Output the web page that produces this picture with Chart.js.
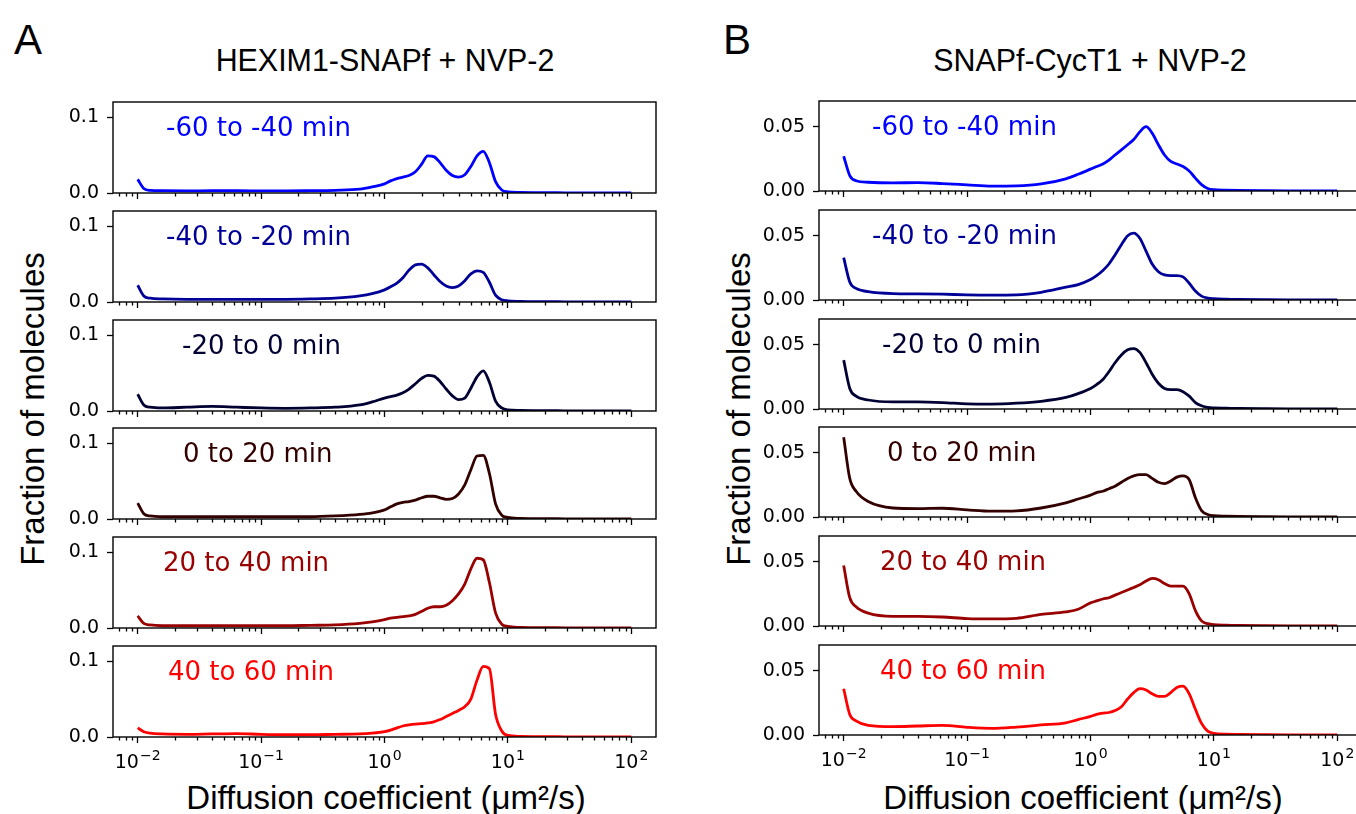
<!DOCTYPE html>
<html><head><meta charset="utf-8">
<script src="https://cdn.jsdelivr.net/npm/chart.js@4"></script>
<style>
html,body{margin:0;padding:0;background:#fff;width:1356px;height:814px;overflow:hidden;position:relative;}
.t{position:absolute;font-family:"Liberation Sans",Arial,sans-serif;color:#000;white-space:nowrap;line-height:1;transform:translate(-50%,-50%);}
.rot{transform:translate(-50%,-50%) rotate(-90deg);}
canvas{position:absolute;}
</style></head><body>
<div class="t" style="left:28px;top:40px;font-size:42px;">A</div>
<div class="t" style="left:737px;top:40px;font-size:42px;">B</div>
<div class="t" style="left:385px;top:60px;font-size:32px;transform:translate(-50%,-50%) scaleX(0.95);">HEXIM1-SNAPf + NVP-2</div>
<div class="t" style="left:1090px;top:60px;font-size:32px;transform:translate(-50%,-50%) scaleX(0.95);">SNAPf-CycT1 + NVP-2</div>
<div class="t" style="left:386px;top:797px;font-size:33px;">Diffusion coefficient (μm²/s)</div>
<div class="t" style="left:1083px;top:797px;font-size:33px;">Diffusion coefficient (μm²/s)</div>
<div class="t rot" style="left:32px;top:409px;font-size:33px;">Fraction of molecules</div>
<div class="t rot" style="left:738px;top:409px;font-size:33px;">Fraction of molecules</div>
<div id="host"></div>
<script>
// ---- data ----
const diffusionCoefficients = [0.01,0.0112,0.0126,0.0158,0.0251,0.0398,0.0631,0.1,0.158,0.251,0.398,0.631,0.794,1,1.12,1.26,1.41,1.58,1.78,2.0,2.24,2.51,2.82,3.16,3.55,3.98,4.47,5.01,5.62,6.31,7.08,7.94,8.91,10,12.6,15.8,25.1,39.8,63.1,100];
const timeWindows = ['-60 to -40 min','-40 to -20 min','-20 to 0 min','0 to 20 min','20 to 40 min','40 to 60 min'];
const seriesColors = ['#0000ff','#000099','#000033','#330000','#990000','#ff0000'];

const hexim1_m60 = [0.018,0.006,0.0035,0.003,0.0028,0.003,0.003,0.0028,0.0027,0.003,0.0035,0.005,0.008,0.012,0.016,0.019,0.021,0.023,0.028,0.038,0.049,0.048,0.040,0.030,0.023,0.021,0.024,0.035,0.049,0.055,0.040,0.015,0.004,0.0015,0.0008,0.0005,0.0003,0.0002,0.0001,0.0001];
const hexim1_m40 = [0.022,0.008,0.005,0.004,0.0035,0.0035,0.0035,0.0035,0.0035,0.004,0.005,0.008,0.011,0.016,0.020,0.025,0.032,0.042,0.049,0.050,0.045,0.036,0.027,0.021,0.019,0.021,0.028,0.037,0.041,0.039,0.026,0.009,0.003,0.0015,0.0008,0.0005,0.0003,0.0002,0.0001,0.0001];
const hexim1_m20 = [0.022,0.008,0.005,0.004,0.005,0.006,0.005,0.004,0.0035,0.004,0.005,0.008,0.012,0.017,0.019,0.021,0.024,0.029,0.036,0.043,0.047,0.046,0.039,0.029,0.020,0.015,0.017,0.030,0.045,0.053,0.038,0.013,0.004,0.0015,0.0008,0.0005,0.0003,0.0002,0.0001,0.0001];
const hexim1_p0 = [0.021,0.007,0.004,0.003,0.003,0.003,0.003,0.003,0.003,0.003,0.004,0.006,0.008,0.012,0.016,0.020,0.022,0.023,0.025,0.028,0.030,0.030,0.028,0.026,0.027,0.033,0.045,0.065,0.083,0.084,0.060,0.020,0.005,0.002,0.0008,0.0005,0.0003,0.0002,0.0001,0.0001];
const hexim1_p20 = [0.016,0.006,0.004,0.003,0.003,0.003,0.003,0.003,0.003,0.0035,0.004,0.006,0.008,0.011,0.013,0.014,0.015,0.016,0.018,0.022,0.026,0.028,0.028,0.030,0.036,0.045,0.058,0.078,0.092,0.090,0.060,0.020,0.005,0.002,0.0008,0.0005,0.0003,0.0002,0.0001,0.0001];
const hexim1_p40 = [0.012,0.007,0.005,0.004,0.0035,0.004,0.0045,0.0035,0.003,0.003,0.0035,0.004,0.005,0.007,0.009,0.012,0.0145,0.016,0.017,0.0175,0.0185,0.020,0.023,0.027,0.031,0.035,0.040,0.050,0.075,0.093,0.090,0.030,0.008,0.002,0.0008,0.0005,0.0003,0.0002,0.0001,0.0001];

const cyct1_m60 = [0.027,0.012,0.008,0.0068,0.0063,0.0065,0.0058,0.0048,0.0038,0.004,0.0055,0.0095,0.013,0.017,0.019,0.021,0.024,0.028,0.032,0.036,0.040,0.046,0.050,0.045,0.036,0.028,0.023,0.021,0.019,0.0155,0.010,0.005,0.002,0.001,0.0006,0.0004,0.0002,0.0001,0.0001,0.0001];
const cyct1_m40 = [0.033,0.014,0.009,0.0065,0.005,0.0048,0.0045,0.004,0.0038,0.004,0.006,0.010,0.012,0.016,0.019,0.023,0.028,0.035,0.043,0.050,0.052,0.048,0.038,0.028,0.022,0.0195,0.019,0.019,0.018,0.013,0.007,0.003,0.0015,0.001,0.0006,0.0004,0.0002,0.0001,0.0001,0.0001];
const cyct1_m20 = [0.038,0.016,0.010,0.007,0.0055,0.0055,0.005,0.004,0.0038,0.0045,0.006,0.009,0.012,0.016,0.019,0.023,0.029,0.036,0.042,0.046,0.047,0.044,0.036,0.027,0.020,0.016,0.015,0.015,0.0135,0.010,0.005,0.0025,0.0012,0.0008,0.0006,0.0004,0.0002,0.0001,0.0001,0.0001];
const cyct1_p0 = [0.062,0.030,0.020,0.012,0.007,0.0065,0.0068,0.0055,0.0045,0.0048,0.007,0.011,0.014,0.017,0.019,0.020,0.022,0.024,0.027,0.030,0.032,0.033,0.033,0.030,0.027,0.026,0.028,0.031,0.032,0.029,0.015,0.005,0.002,0.001,0.0006,0.0004,0.0002,0.0001,0.0001,0.0001];
const cyct1_p20 = [0.047,0.022,0.015,0.010,0.0075,0.0075,0.007,0.0058,0.0055,0.006,0.009,0.011,0.013,0.018,0.0195,0.021,0.022,0.024,0.026,0.028,0.030,0.032,0.035,0.037,0.036,0.033,0.031,0.031,0.031,0.025,0.012,0.004,0.0018,0.001,0.0006,0.0004,0.0002,0.0001,0.0001,0.0001];
const cyct1_p40 = [0.036,0.016,0.011,0.0075,0.0065,0.007,0.0075,0.006,0.0052,0.0062,0.0078,0.0095,0.012,0.0145,0.016,0.017,0.0175,0.019,0.022,0.028,0.033,0.036,0.035,0.032,0.030,0.030,0.033,0.037,0.038,0.032,0.020,0.009,0.003,0.0013,0.0006,0.0004,0.0002,0.0001,0.0001,0.0001];

const xMajorTicks = [0.01, 0.1, 1, 10, 100];
const xTickBase = '10';
const xTickExponents = ['\u22122', '\u22121', '0', '1', '2'];
const yTicksA = [0, 0.1];
const yTickLabelsA = ['0.0', '0.1'];
const yTicksB = [0, 0.05];
const yTickLabelsB = ['0.00', '0.05'];

// ---- layout ----
const X_MIN = Math.pow(10, -2.2), X_MAX = Math.pow(10, 2.2);
const ROW_STEP = 108.8, BOX_W = 543, Y_AXIS_W = 80, PAD_T = 6, PAD_R = 8;
const TICK_FONT = 19;
const panels = [
  {left:113, top0:102, h:91, ymax:0.12, yt:yTicksA, yl:yTickLabelsA,
   series:[hexim1_m60,hexim1_m40,hexim1_m20,hexim1_p0,hexim1_p20,hexim1_p40], labelDx:[53,53,69,70,50,55]},
  {left:819, top0:101, h:90, ymax:0.07, yt:yTicksB, yl:yTickLabelsB,
   series:[cyct1_m60,cyct1_m40,cyct1_m20,cyct1_p0,cyct1_p20,cyct1_p40], labelDx:[53,53,63,68,61,61]}
];

const minorTicks = [];
for (let e = -3; e <= 2; e++) for (let m = 2; m <= 9; m++) {
  const v = m * Math.pow(10, e);
  if (v >= X_MIN && v <= X_MAX) minorTicks.push(v);
}

const framePlugin = {
  id: 'frame',
  afterDraw(chart, args, opts) {
    const {ctx, chartArea: a} = chart;
    const xs = chart.scales.x;
    ctx.save();
    ctx.strokeStyle = '#000';
    ctx.lineWidth = 1.3;
    ctx.beginPath();
    minorTicks.forEach(v => {
      const px = Math.round(xs.getPixelForValue(v)) + 0.5;
      ctx.moveTo(px, a.bottom); ctx.lineTo(px, a.bottom + 3.5);
    });
    ctx.stroke();
    ctx.lineWidth = 1.4;
    ctx.strokeRect(a.left, a.top, a.right - a.left, a.bottom - a.top);
    // time window label
    ctx.font = '26px "DejaVu Sans"';
    ctx.fillStyle = opts.color;
    ctx.textBaseline = 'middle';
    ctx.textAlign = 'left';
    ctx.fillText(opts.text, a.left + opts.dx, a.top + 27);
    // x tick labels (10 with superscript exponent), bottom row only
    if (opts.showX) {
      ctx.fillStyle = '#000';
      ctx.textBaseline = 'alphabetic';
      const baseFont = TICK_FONT + 'px "DejaVu Sans"';
      const supFont = Math.round(TICK_FONT * 0.76) + 'px "DejaVu Sans"';
      xMajorTicks.forEach((v, k) => {
        const px = xs.getPixelForValue(v);
        ctx.font = baseFont;
        const wb = ctx.measureText(xTickBase).width;
        ctx.font = supFont;
        const ws = ctx.measureText(xTickExponents[k]).width;
        const x0 = px - (wb + ws + 1) / 2;
        const by = a.bottom + 31;
        ctx.font = baseFont;
        ctx.fillText(xTickBase, x0, by);
        ctx.font = supFont;
        ctx.fillText(xTickExponents[k], x0 + wb + 1, by - 8);
      });
    }
    ctx.restore();
  }
};

const host = document.getElementById('host');
panels.forEach(p => {
  p.series.forEach((ser, i) => {
    const isBottom = i === 5;
    const bottomH = isBottom ? 42 : 10;
    const top = Math.round(p.top0 + i * ROW_STEP);
    const cv = document.createElement('canvas');
    const W = Y_AXIS_W + BOX_W + PAD_R, H = PAD_T + p.h + bottomH;
    cv.width = W; cv.height = H;
    cv.style.left = (p.left - Y_AXIS_W) + 'px';
    cv.style.top = (top - PAD_T) + 'px';
    cv.style.width = W + 'px'; cv.style.height = H + 'px';
    host.appendChild(cv);
    new Chart(cv, {
      type: 'line',
      data: { datasets: [{
        data: diffusionCoefficients.map((d, k) => ({x: d, y: ser[k]})),
        borderColor: seriesColors[i], borderWidth: 2.8, pointRadius: 0,
        cubicInterpolationMode: 'monotone', fill: false
      }]},
      options: {
        responsive: false, animation: false, devicePixelRatio: 1,
        layout: { autoPadding: false, padding: {left: 0, top: PAD_T, right: PAD_R, bottom: 0} },
        plugins: { legend: {display: false}, tooltip: {enabled: false},
          frame: { text: timeWindows[i], color: seriesColors[i], dx: p.labelDx[i], showX: isBottom } },
        scales: {
          x: {
            type: 'logarithmic', min: X_MIN, max: X_MAX,
            afterBuildTicks: s => { s.ticks = xMajorTicks.map(v => ({value: v, major: true})); },
            afterFit: s => { s.height = bottomH; s.paddingLeft = 0; s.paddingRight = 0; s.paddingTop = 0; s.paddingBottom = 0; },
            ticks: { display: false, autoSkip: false, maxRotation: 0, minRotation: 0 },
            grid: { display: true, drawOnChartArea: false, drawTicks: true, tickLength: 6, tickColor: '#000', tickWidth: 1.3 },
            border: { display: false }
          },
          y: {
            min: 0, max: p.ymax,
            afterBuildTicks: s => { s.ticks = p.yt.map(v => ({value: v})); },
            afterFit: s => { s.width = Y_AXIS_W; s.paddingTop = 0; s.paddingBottom = 0; s.paddingLeft = 0; s.paddingRight = 0; },
            ticks: { autoSkip: false, padding: 8, color: '#000', font: {family: 'DejaVu Sans', size: TICK_FONT},
              callback: (v, idx) => p.yl[idx] },
            grid: { display: true, drawOnChartArea: false, drawTicks: true, tickLength: 6, tickColor: '#000', tickWidth: 1.3 },
            border: { display: false }
          }
        }
      },
      plugins: [framePlugin]
    });
  });
});
</script>
</body></html>
